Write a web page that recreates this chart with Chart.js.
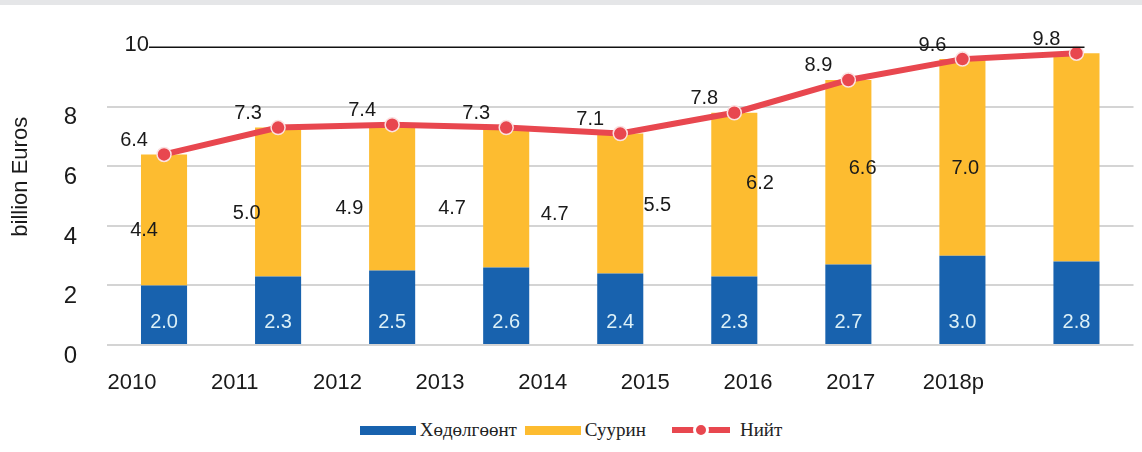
<!DOCTYPE html>
<html>
<head>
<meta charset="utf-8">
<title>Ачаа тээвэр</title>
<script src="https://cdn.jsdelivr.net/npm/chart.js@4.4.1/dist/chart.umd.min.js"></script>
<style>
  html, body { margin: 0; padding: 0; background: #fff; }
  body { width: 1142px; height: 452px; position: relative; overflow: hidden; }
  #topband { position: absolute; left: 0; top: 0; width: 1142px; height: 5px; background: #e5e6e8; }
  #wrap { position: absolute; left: 0; top: 0; width: 1142px; height: 410px; }
  #legend {
    position: absolute; left: 0; top: 419px; width: 1142px;
    display: flex; justify-content: center; align-items: center;
    font-family: "Liberation Serif", "DejaVu Serif", serif; font-size: 19px; color: #222;
  }
  .item { display: flex; align-items: center; margin: 0 4px; }
  .item.line { margin-left: 22px; }
  .swatch { width: 56px; height: 9px; margin-right: 4px; }
  .lineSw { position: relative; width: 58px; height: 6px; background: #e8474f; margin-right: 10px; }
  .lineSw::after {
    content: ''; position: absolute; left: 21px; top: -5px; width: 16px; height: 16px;
    border-radius: 50%; background: #e8474f; box-sizing: border-box; border: 3px solid #fff;
  }
</style>
</head>
<body>
<div id="topband"></div>
<div id="wrap"><canvas id="chart"></canvas></div>
<div id="legend"></div>
<script>
// categories and series (billion euros)
const years = ['2010', '2011', '2012', '2013', '2014', '2015', '2016', '2017', '2018р'];
const mobile = [2.0, 2.3, 2.5, 2.6, 2.4, 2.3, 2.7, 3.0, 2.8];       // Хөдөлгөөнт
const stationary = [4.4, 5.0, 4.9, 4.7, 4.7, 5.5, 6.2, 6.6, 7.0];   // Суурин
const total = [6.4, 7.3, 7.4, 7.3, 7.1, 7.8, 8.9, 9.6, 9.8];        // Нийт
const yTicks = [0, 2, 4, 6, 8];
const topMark = 10;

const names = ['Хөдөлгөөнт', 'Суурин', 'Нийт'];
const BLUE = '#1862ae', YELLOW = '#fdbc30', RED = '#e8474f';
const SANS = '"Liberation Sans", Arial, sans-serif';
const INK = '#1a1a1a';

// year captions sit on a slightly tighter grid than the bars (in category units)
const capStart = -0.28, capStep = 0.9;

// year captions, the numbers on bars and line, and the "10" rule
const valueLabels = {
  id: 'valueLabels',
  afterDatasetsDraw(chart) {
    const ctx = chart.ctx;
    const area = chart.chartArea;
    const x = chart.scales.x;
    const y = chart.scales.y;
    const capX = i => x.getPixelForValue(capStart + capStep * i);
    ctx.save();
    ctx.textAlign = 'center';
    ctx.textBaseline = 'middle';

    ctx.font = '22px ' + SANS;
    ctx.fillStyle = INK;
    years.forEach((t, i) => ctx.fillText(t, capX(i), area.bottom + 38));

    ctx.font = '20px ' + SANS;
    chart.getDatasetMeta(0).data.forEach((bar, i) => {
      ctx.fillStyle = '#dcf0f7';
      ctx.fillText(mobile[i].toFixed(1), bar.x, bar.base - 22);
    });
    ctx.fillStyle = INK;
    chart.getDatasetMeta(1).data.forEach((bar, i) => {
      ctx.fillText(stationary[i].toFixed(1), capX(i) + 12, (bar.y + bar.base) / 2 + 11);
    });
    chart.getDatasetMeta(2).data.forEach((pt, i) => {
      ctx.fillText(total[i].toFixed(1), pt.x - 30, pt.y - 14);
    });

    const ty = y.getPixelForValue(topMark);
    ctx.strokeStyle = '#111';
    ctx.lineWidth = 1.5;
    ctx.beginPath();
    ctx.moveTo(area.left + 42, ty);
    ctx.lineTo(area.right - 49, ty);
    ctx.stroke();
    ctx.font = '22px ' + SANS;
    ctx.textAlign = 'right';
    ctx.textBaseline = 'alphabetic';
    ctx.fillText(String(topMark), area.left + 42, ty + 4);
    ctx.restore();
  }
};

new Chart(document.getElementById('chart'), {
  type: 'bar',
  data: {
    labels: years,
    datasets: [
      { label: names[0], data: mobile, backgroundColor: BLUE, stack: 'bars', order: 2,
        categoryPercentage: 1, barPercentage: 0.404 },
      { label: names[1], data: stationary, backgroundColor: YELLOW, stack: 'bars', order: 2,
        categoryPercentage: 1, barPercentage: 0.404 },
      { type: 'line', label: names[2], data: total, stack: 'sum', order: 0,
        borderColor: RED, borderWidth: 6, tension: 0,
        pointRadius: 7, pointBackgroundColor: RED, pointBorderColor: '#fbe1e1', pointBorderWidth: 1.5 }
    ]
  },
  options: {
    responsive: true,
    maintainAspectRatio: false,
    animation: false,
    layout: { padding: { left: 0, right: 8, top: 6, bottom: 65 } },
    plugins: { legend: { display: false }, tooltip: { enabled: false } },
    scales: {
      x: { display: false, stacked: true },
      y: {
        stacked: true, min: 0, max: 11.3,
        afterBuildTicks: s => { s.ticks = yTicks.map(v => ({ value: v })); },
        afterFit: s => { s.width = 107; s.paddingTop = 0; s.paddingBottom = 0; },
        ticks: { padding: 30, crossAlign: 'near', labelOffset: 11,
          color: INK, font: { family: SANS, size: 24 } },
        grid: { color: '#d4d4d4', lineWidth: 2, drawTicks: false },
        border: { display: false },
        title: { display: true, text: 'billion Euros', color: INK,
          font: { family: SANS, size: 22 }, padding: { top: 8, bottom: 0 } }
      }
    }
  },
  plugins: [valueLabels]
});

// legend row under the chart
const legend = document.getElementById('legend');
[BLUE, YELLOW, RED].forEach((c, i) => {
  const item = document.createElement('div');
  item.className = i < 2 ? 'item' : 'item line';
  const sw = document.createElement('div');
  if (i < 2) { sw.className = 'swatch'; sw.style.background = c; }
  else { sw.className = 'lineSw'; }
  const t = document.createElement('span');
  t.textContent = names[i];
  item.appendChild(sw);
  item.appendChild(t);
  legend.appendChild(item);
});
</script>
</body>
</html>
